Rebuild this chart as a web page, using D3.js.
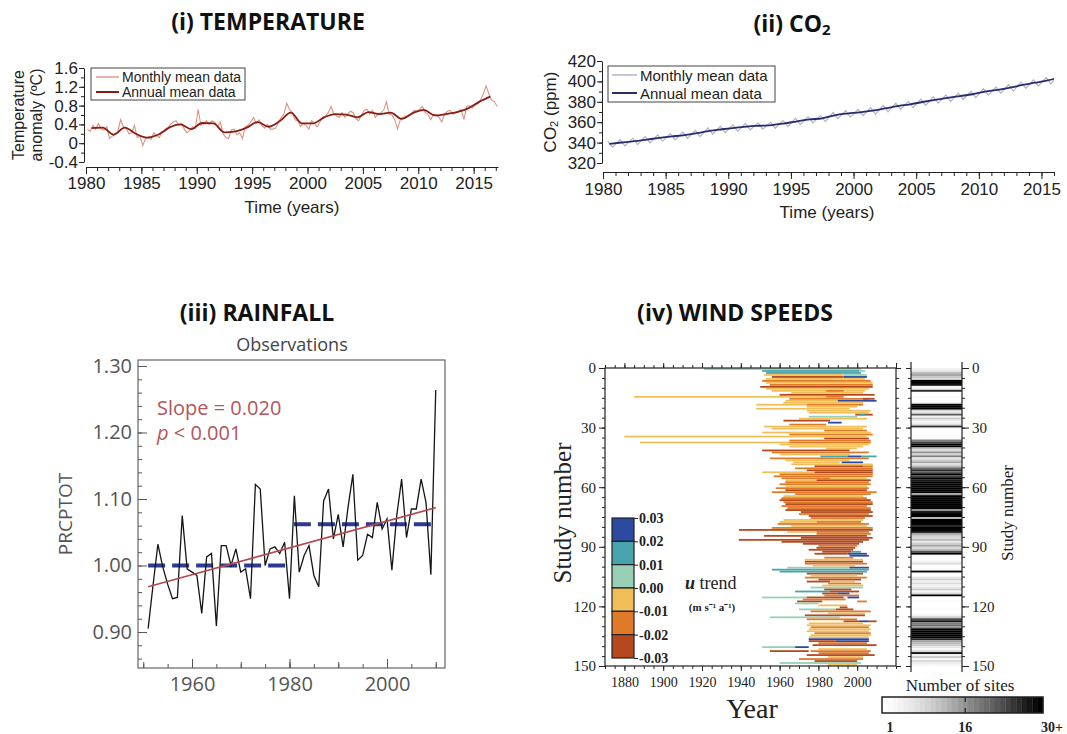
<!DOCTYPE html>
<html>
<head>
<meta charset="utf-8">
<script src="https://cdn.jsdelivr.net/npm/d3@7"></script>
<style>
  body { margin: 0; background: #fff; }
  svg { display: block; }
</style>
</head>
<body>
<svg id="fig" width="1067" height="734"></svg>
<script>
// ---------- data ----------

// (i) temperature anomaly, annual means 1980-2016
var tempAnnual = [0.32, 0.33, 0.18, 0.33, 0.20, 0.12, 0.18, 0.33, 0.40, 0.30,
                  0.43, 0.42, 0.23, 0.25, 0.33, 0.45, 0.35, 0.47, 0.65, 0.42,
                  0.42, 0.55, 0.62, 0.61, 0.55, 0.66, 0.62, 0.65, 0.52, 0.64,
                  0.71, 0.59, 0.62, 0.66, 0.74, 0.88, 0.99];
// monthly data, sampled four times a year from 1980
var tempMonthly = [0.30, 0.25, 0.38, 0.30,  0.42, 0.30, 0.28, 0.35,  0.10, 0.15, 0.20, 0.24,
                   0.50, 0.35, 0.32, 0.20,  0.22, 0.38, 0.12, 0.15, -0.05, 0.10, 0.12, 0.08,
                   0.22, 0.15, 0.12, 0.25,  0.25, 0.30, 0.40, 0.45,  0.48, 0.38, 0.42, 0.30,
                   0.22, 0.28, 0.35, 0.32,  0.72, 0.38, 0.40, 0.48,  0.40, 0.48, 0.45, 0.35,
                   0.45, 0.20, 0.12, 0.10,  0.28, 0.30, 0.18, 0.22,  0.10, 0.35, 0.38, 0.45,
                   0.55, 0.42, 0.50, 0.38,  0.32, 0.40, 0.30, 0.30,  0.32, 0.45, 0.55, 0.62,
                   0.85, 0.72, 0.65, 0.50,  0.48, 0.35, 0.42, 0.38,  0.30, 0.48, 0.42, 0.35,
                   0.45, 0.55, 0.58, 0.65,  0.78, 0.62, 0.58, 0.55,  0.65, 0.55, 0.62, 0.68,
                   0.65, 0.52, 0.48, 0.60,  0.70, 0.72, 0.62, 0.70,  0.55, 0.62, 0.65, 0.70,
                   0.88, 0.62, 0.60, 0.50,  0.30, 0.50, 0.55, 0.58,  0.58, 0.62, 0.70, 0.68,
                   0.72, 0.78, 0.65, 0.62,  0.50, 0.62, 0.60, 0.55,  0.45, 0.62, 0.68, 0.70,
                   0.62, 0.65, 0.68, 0.72,  0.50, 0.78, 0.80, 0.75,  0.80, 0.85, 0.92, 1.05,
                   1.22, 1.05, 0.92, 0.88,  0.78];

// (ii) CO2 (ppm), annual means 1980-2016, and the seasonal high (May) / low (Sep) of each year
var co2Annual = [338.8, 340.1, 341.4, 343.0, 344.6, 346.0, 347.4, 349.2, 351.6, 353.1,
                 354.4, 355.7, 356.5, 357.2, 358.9, 360.9, 362.7, 363.8, 366.8, 368.5,
                 369.7, 371.3, 373.5, 375.8, 377.5, 379.8, 381.9, 383.8, 385.6, 387.4,
                 389.9, 391.7, 393.9, 396.5, 398.7, 401.0, 404.2];
var co2High = [341.5, 343.0, 344.3, 345.8, 347.5, 348.9, 350.3, 352.1, 354.5, 356.1,
               357.3, 358.6, 359.3, 360.0, 361.7, 363.7, 365.6, 366.6, 369.7, 371.4,
               372.6, 374.2, 376.4, 378.7, 380.4, 382.7, 384.8, 386.7, 388.5, 390.3,
               392.8, 394.6, 396.8, 399.4, 401.6, 403.9, 407.1];
var co2Low = [335.6, 336.8, 338.1, 339.7, 341.3, 342.7, 344.1, 345.9, 348.3, 349.8,
              351.1, 352.4, 353.2, 353.9, 355.6, 357.6, 359.4, 360.5, 363.5, 365.2,
              366.4, 368.0, 370.2, 372.5, 374.2, 376.5, 378.6, 380.5, 382.3, 384.1,
              386.6, 388.4, 390.6, 393.2, 395.4, 397.7, 400.9];

// (iii) rainfall PRCPTOT 1951-2010
var rainFirstYear = 1951;
var rainfall = [0.905, 0.970, 1.032, 0.998, 0.972, 0.950, 0.952, 1.075, 0.995, 0.990,
                0.985, 0.928, 1.013, 1.018, 0.909, 1.030, 1.030, 1.000, 1.025, 0.990,
                0.995, 0.950, 1.122, 1.115, 1.000, 1.025, 1.028, 1.018, 1.035, 0.950,
                1.105, 0.990, 1.015, 1.030, 0.985, 0.968, 1.097, 1.115, 1.040, 1.077,
                1.028, 1.087, 1.137, 1.008, 1.015, 1.047, 1.042, 1.095, 1.055, 1.070,
                0.993, 1.075, 1.130, 1.042, 1.085, 1.085, 1.130, 1.095, 0.986, 1.264];
var rainTrend = [[1951, 0.968], [2010, 1.087]];
var rainMeans = [[1951, 1980.2, 1.000], [1980.9, 2010.4, 1.062]];

// (iv) wind speeds: [study, first year, last year, u trend]
var B = 0.025, T = 0.015, G = 0.005, Y = -0.005, O = -0.015, R = -0.025;
var windBars = [
  [0,1921,2002,G], [1,1951,2001,T], [1,2001,2004,G], [2,1953,2002,T], [3,1952,1993,Y], [3,1993,2005,G],
  [4,1956,1993,R], [4,1993,2005,B], [5,1953,2004,Y], [6,1951,2007,O], [7,1953,2008,Y], [8,1955,2008,O],
  [9,1950,2008,R], [10,1953,2006,Y], [11,1956,2004,Y], [11,1984,1993,O], [12,1966,2003,Y], [13,1960,2009,R],
  [14,1885,1984,Y], [14,1984,1993,O], [15,1965,2006,O], [15,2003,2009,R], [16,1963,1990,Y], [16,1990,2010,B],
  [17,1962,2003,Y], [18,1948,1974,Y], [18,1974,2003,O], [19,1974,2000,Y], [20,1948,1996,Y], [21,1974,2007,Y],
  [22,1975,2006,Y], [23,1999,2008,R], [23,2001,2004,T], [24,1975,2000,G], [25,1970,2005,Y], [26,1962,1986,R],
  [27,1985,1992,B], [28,1965,1984,O], [29,1952,2005,Y], [30,1956,2003,Y], [31,1983,2005,O], [32,1951,2007,Y],
  [33,1965,2008,O], [34,1880,2005,Y], [35,1983,2006,R], [36,1965,2007,O], [37,1888,1965,Y], [37,1965,2007,O],
  [38,1960,2006,Y], [39,1965,2003,Y], [40,1984,2000,Y], [41,1951,1996,R], [42,1956,2006,O], [43,1960,1996,Y],
  [44,1981,1995,T], [44,1995,2002,B], [44,2002,2010,T], [45,1955,2006,O], [46,1963,1996,Y], [47,1967,1991,Y],
  [47,1992,2003,B], [48,1966,2008,Y], [49,1978,2003,R], [49,2003,2008,O], [50,1968,2008,O], [51,1974,2008,R],
  [52,1951,1978,Y], [52,1978,2008,R], [53,1960,2008,O], [54,1957,2008,O], [55,1961,1986,O], [55,1986,2005,Y],
  [56,1963,1979,Y], [56,1979,2007,R], [57,1963,2006,O], [58,1960,2007,O], [59,1963,2005,Y], [60,1958,2006,O],
  [61,1963,2005,R], [62,1956,2010,O], [63,1968,2007,O], [64,1962,2003,Y], [65,1961,2005,O], [66,1960,2007,R],
  [67,1962,2008,O], [68,1963,2008,R], [69,1961,2005,O], [70,1964,2007,O], [71,1963,2007,R], [72,1971,2008,R],
  [73,1970,2006,O], [74,1975,2008,R], [75,1976,2004,O], [76,1962,2003,Y], [77,1960,1979,Y], [77,1979,2002,O],
  [78,1959,2006,O], [79,1966,2005,Y], [80,1956,2008,O], [81,1939,2008,R], [82,1964,1979,Y], [82,1979,2006,O],
  [83,1979,2007,O], [84,1952,2005,R], [85,1971,2008,R], [86,1939,2006,R], [87,1961,2003,R], [88,1972,2001,R],
  [89,1980,2000,O], [90,1979,1999,R], [91,1975,1998,R], [92,1982,1997,R], [92,1997,2002,T], [93,1978,1995,R],
  [93,1995,2005,B], [94,1996,2006,B], [95,1983,1998,O], [96,1973,2003,Y], [97,1973,2003,R], [98,1973,2005,O],
  [99,1977,1999,Y], [100,1964,1996,G], [100,1996,2006,B], [101,1956,2006,T], [102,1960,2005,T], [103,1974,2003,R],
  [104,1976,2000,Y], [105,1973,2005,O], [106,1980,2002,R], [107,1974,1986,R], [107,1986,1999,Y], [108,1985,2002,O],
  [109,1982,2003,Y], [110,1976,2003,G], [111,1983,1997,R], [112,1968,1986,T], [112,1986,2001,R], [113,1982,1990,R],
  [113,1990,1996,B], [114,1983,2001,O], [115,1951,1974,G], [115,1974,1993,R], [115,1995,2001,B], [116,1972,1994,O],
  [117,1969,1982,R], [117,2000,2005,O], [118,1968,1980,G], [119,1980,1995,Y], [120,1991,1995,R], [121,1970,1989,G],
  [121,1989,1998,R], [122,1976,2007,O], [123,1985,2004,Y], [124,1973,2004,R], [125,1955,1991,G], [126,1974,2000,O],
  [127,1993,2001,R], [127,2001,2006,B], [127,2006,2010,R], [128,1975,2003,Y], [129,1974,2007,Y], [130,1976,2006,O],
  [131,1975,2007,Y], [132,1974,2006,Y], [133,1978,2007,O], [134,1976,2007,Y], [135,1975,2006,Y], [136,1975,2006,B],
  [137,1975,1989,R], [137,1989,2006,B], [138,1980,2005,O], [139,1977,2010,R], [140,1951,1968,G], [140,1968,1975,B],
  [141,1980,2005,Y], [142,1955,1975,R], [142,1976,2007,O], [143,1980,2006,O], [144,1974,2009,R], [145,1985,2003,Y],
  [146,1970,2003,O], [147,1978,2000,R], [148,1960,2002,G], [149,1985,2000,Y]
];
// number of sites per study (0..149)
var siteCounts = [4, 6, 12, 14, 10, 8, 30, 30, 28, 3,
                  5, 26, 1, 1, 2, 1, 1, 3, 30, 30,
                  30, 8, 6, 22, 4, 10, 5, 3, 8, 26,
                  2, 1, 1, 1, 1, 2, 18, 24, 30, 30,
                  12, 8, 16, 9, 18, 6, 10, 14, 7, 12,
                  20, 26, 22, 30, 24, 30, 28, 30, 30, 30,
                  30, 30, 30, 14, 30, 30, 30, 30, 30, 30,
                  30, 16, 28, 30, 30, 12, 30, 30, 30, 26,
                  30, 30, 28, 14, 10, 8, 12, 6, 10, 14,
                  8, 12, 22, 30, 2, 1, 1, 4, 8, 1,
                  1, 3, 30, 2, 1, 6, 10, 4, 8, 3,
                  6, 10, 3, 8, 30, 1, 1, 2, 1, 1,
                  1, 2, 1, 1, 4, 10, 24, 28, 18, 20,
                  16, 30, 30, 30, 30, 30, 26, 14, 12, 10,
                  6, 3, 8, 28, 4, 10, 3, 8, 5, 3];
var trendBreaks = [0.03, 0.02, 0.01, 0.00, -0.01, -0.02, -0.03];
var trendColors = ["#b4491f", "#df7a2b", "#f1bf59", "#97d0b4", "#48a5ad", "#2c4aa0"];

// ---------- drawing ----------
var sans = "'Liberation Sans', Arial, sans-serif";
var serif = "'Liberation Serif', 'Times New Roman', serif";
var open = "'Open Sans', sans-serif";

var svg = d3.select("#fig");
svg.append("rect").attr("width", 1067).attr("height", 734).attr("fill", "#fff");

function styleAxis(g, font, size, color) {
  g.selectAll(".domain, .tick line").attr("stroke", color);
  g.selectAll(".tick text").attr("fill", color).attr("font-family", font).attr("font-size", size);
  return g;
}
function panelTitle(x, y, txt) {
  return svg.append("text").attr("x", x).attr("y", y)
    .attr("text-anchor", "middle").attr("dominant-baseline", "central")
    .attr("font-family", open).attr("font-weight", 700).attr("font-size", 23)
    .attr("fill", "#111").text(txt);
}
function fmt1(d) { return Math.abs(d) < 1e-9 ? "0" : d.toFixed(1); }

// ===== (i) TEMPERATURE =====
panelTitle(268, 21, "(i) TEMPERATURE");
var xT = d3.scaleLinear().domain([1980, 2017.2]).range([86, 498]);
var yT = d3.scaleLinear().domain([-0.4, 1.6]).range([162, 68]);
var gT = svg.append("g");

var tMon = tempMonthly.map(function (v, i) { return [1980.125 + i * 0.25, v]; });
gT.append("path").datum(tMon)
  .attr("d", d3.line().x(function (d) { return xT(d[0]); }).y(function (d) { return yT(d[1]); }))
  .attr("fill", "none").attr("stroke", "#e09282").attr("stroke-width", 1.1);
var tAnn = tempAnnual.map(function (v, i) { return [1980.5 + i, v]; });
gT.append("path").datum(tAnn)
  .attr("d", d3.line().curve(d3.curveMonotoneX).x(function (d) { return xT(d[0]); }).y(function (d) { return yT(d[1]); }))
  .attr("fill", "none").attr("stroke", "#8a1d15").attr("stroke-width", 1.8);

var gTx = gT.append("g").attr("transform", "translate(0,167)");
gTx.call(d3.axisBottom(xT).tickValues(d3.range(1980, 2018)).tickSize(4).tickSizeOuter(0).tickFormat(""));
gTx.append("g").call(d3.axisBottom(xT).tickValues(d3.range(1980, 2016, 5)).tickSize(7).tickPadding(3)
  .tickFormat(d3.format("d"))).select(".domain").remove();
styleAxis(gTx, sans, 17, "#222");
var gTy = gT.append("g").attr("transform", "translate(84,0)");
gTy.call(d3.axisLeft(yT).tickValues([-0.4, -0.2, 0, 0.2, 0.4, 0.6, 0.8, 1.0, 1.2, 1.4, 1.6]).tickSize(3).tickSizeOuter(0).tickFormat(""));
gTy.append("g").call(d3.axisLeft(yT).tickValues([-0.4, 0, 0.4, 0.8, 1.2, 1.6]).tickSize(5).tickPadding(1)
  .tickFormat(fmt1)).select(".domain").remove();
styleAxis(gTy, sans, 17, "#222");

gT.append("text").attr("x", 292).attr("y", 207).attr("text-anchor", "middle").attr("dominant-baseline", "central")
  .attr("font-family", sans).attr("font-size", 17).attr("fill", "#222").text("Time (years)");
gT.append("text").attr("transform", "translate(18,115) rotate(-90)").attr("text-anchor", "middle")
  .attr("dominant-baseline", "central").attr("font-family", sans).attr("font-size", 16).attr("fill", "#222")
  .text("Temperature");
gT.append("text").attr("transform", "translate(36,115) rotate(-90)").attr("text-anchor", "middle")
  .attr("dominant-baseline", "central").attr("font-family", sans).attr("font-size", 16).attr("fill", "#222")
  .text("anomaly (ºC)");

var legT = gT.append("g");
legT.append("rect").attr("x", 91).attr("y", 68).attr("width", 154).attr("height", 32)
  .attr("fill", "#fff").attr("stroke", "#444").attr("stroke-width", 1);
[["Monthly mean data", "#e09282", 1.4, 77], ["Annual mean data", "#8a1d15", 2, 92]].forEach(function (l) {
  legT.append("line").attr("x1", 96).attr("x2", 119).attr("y1", l[3]).attr("y2", l[3])
    .attr("stroke", l[1]).attr("stroke-width", l[2]);
  legT.append("text").attr("x", 122).attr("y", l[3]).attr("dominant-baseline", "central")
    .attr("font-family", sans).attr("font-size", 14).attr("fill", "#222").text(l[0]);
});

// ===== (ii) CO2 =====
var tCO2 = svg.append("text").attr("x", 792).attr("y", 23).attr("text-anchor", "middle")
  .attr("dominant-baseline", "central").attr("font-family", open).attr("font-weight", 700)
  .attr("font-size", 23).attr("fill", "#111");
tCO2.append("tspan").text("(ii) CO");
tCO2.append("tspan").attr("dy", 6).attr("font-size", 15).text("2");

var xC = d3.scaleLinear().domain([1980, 2016]).range([603, 1054]);
var yC = d3.scaleLinear().domain([320, 420]).range([163, 61]);
var gC = svg.append("g");
svg.append("clipPath").attr("id", "clipC").append("rect").attr("x", 603).attr("y", 40).attr("width", 451).attr("height", 130);

var cMon = [];
co2High.forEach(function (v, i) { cMon.push([1980.37 + i, v]); cMon.push([1980.75 + i, co2Low[i]]); });
gC.append("path").datum(cMon).attr("clip-path", "url(#clipC)")
  .attr("d", d3.line().x(function (d) { return xC(d[0]); }).y(function (d) { return yC(d[1]); }))
  .attr("fill", "none").attr("stroke", "#a8b2cc").attr("stroke-width", 1.1);
var cAnn = co2Annual.map(function (v, i) { return [1980.5 + i, v]; });
gC.append("path").datum(cAnn).attr("clip-path", "url(#clipC)")
  .attr("d", d3.line().curve(d3.curveMonotoneX).x(function (d) { return xC(d[0]); }).y(function (d) { return yC(d[1]); }))
  .attr("fill", "none").attr("stroke", "#2a2b6a").attr("stroke-width", 1.8);

var gCx = gC.append("g").attr("transform", "translate(0,172)");
gCx.call(d3.axisBottom(xC).tickValues(d3.range(1980, 2017)).tickSize(4).tickSizeOuter(0).tickFormat(""));
gCx.append("g").call(d3.axisBottom(xC).tickValues(d3.range(1980, 2016, 5)).tickSize(7).tickPadding(4)
  .tickFormat(d3.format("d"))).select(".domain").remove();
styleAxis(gCx, sans, 17, "#222");
var gCy = gC.append("g").attr("transform", "translate(602,0)");
gCy.call(d3.axisLeft(yC).tickValues(d3.range(320, 421, 10)).tickSize(3).tickSizeOuter(0).tickFormat(""));
gCy.append("g").call(d3.axisLeft(yC).tickValues(d3.range(320, 421, 20)).tickSize(5).tickPadding(1)
  .tickFormat(d3.format("d"))).select(".domain").remove();
styleAxis(gCy, sans, 17, "#222");

gC.append("text").attr("x", 827).attr("y", 212).attr("text-anchor", "middle").attr("dominant-baseline", "central")
  .attr("font-family", sans).attr("font-size", 17).attr("fill", "#222").text("Time (years)");
var yLabC = gC.append("text").attr("transform", "translate(550,112) rotate(-90)").attr("text-anchor", "middle")
  .attr("dominant-baseline", "central").attr("font-family", sans).attr("font-size", 17).attr("fill", "#222");
yLabC.append("tspan").text("CO");
yLabC.append("tspan").attr("dy", 4).attr("font-size", 11).text("2");
yLabC.append("tspan").attr("dy", -4).text(" (ppm)");

var legC = gC.append("g");
legC.append("rect").attr("x", 608).attr("y", 66).attr("width", 167).attr("height", 36)
  .attr("fill", "#fff").attr("stroke", "#444").attr("stroke-width", 1);
[["Monthly mean data", "#a8b2cc", 1.4, 75], ["Annual mean data", "#2a2b6a", 2, 93]].forEach(function (l) {
  legC.append("line").attr("x1", 612).attr("x2", 637).attr("y1", l[3]).attr("y2", l[3])
    .attr("stroke", l[1]).attr("stroke-width", l[2]);
  legC.append("text").attr("x", 640).attr("y", l[3]).attr("dominant-baseline", "central")
    .attr("font-family", sans).attr("font-size", 15).attr("fill", "#222").text(l[0]);
});

// ===== (iii) RAINFALL =====
panelTitle(257, 312, "(iii) RAINFALL");
var xR = d3.scaleLinear().domain([1960, 2000]).range([192, 387]);
var yR = d3.scaleLinear().domain([0.9, 1.3]).range([632, 366]);
var gR = svg.append("g");
gR.append("text").attr("x", 292).attr("y", 344).attr("text-anchor", "middle").attr("dominant-baseline", "central")
  .attr("font-family", open).attr("font-size", 18).attr("fill", "#444").text("Observations");
gR.append("rect").attr("x", 138).attr("y", 360).attr("width", 307).attr("height", 308)
  .attr("fill", "none").attr("stroke", "#666").attr("stroke-width", 1.2);

var gRy = gR.append("g").attr("transform", "translate(138,0)");
gRy.call(d3.axisLeft(yR).tickValues(d3.range(0.86, 1.305, 0.02)).tickSize(-4).tickFormat(""));
gRy.append("g").call(d3.axisLeft(yR).tickValues([0.9, 1.0, 1.1, 1.2, 1.3]).tickSize(-9).tickPadding(6)
  .tickFormat(d3.format(".2f")));
gRy.selectAll(".domain").remove();
styleAxis(gRy, open, 20, "#555");
var gRx = gR.append("g").attr("transform", "translate(0,668)");
gRx.call(d3.axisBottom(xR).tickValues(d3.range(1950, 2011, 5)).tickSize(-4).tickFormat(""));
gRx.append("g").call(d3.axisBottom(xR).tickValues(d3.range(1950, 2011, 10)).tickSize(-6).tickFormat(""));
gRx.append("g").call(d3.axisBottom(xR).tickValues([1960, 1980, 2000]).tickSize(-9).tickPadding(9)
  .tickFormat(d3.format("d")));
gRx.selectAll(".domain").remove();
styleAxis(gRx, open, 20, "#555");

gR.append("text").attr("transform", "translate(65,514) rotate(-90)").attr("text-anchor", "middle")
  .attr("dominant-baseline", "central").attr("font-family", open).attr("font-size", 19).attr("fill", "#555")
  .text("PRCPTOT");

var rLine = d3.line().x(function (d) { return xR(d[0]); }).y(function (d) { return yR(d[1]); });
gR.selectAll("line.mean").data(rainMeans).enter().append("line").attr("class", "mean")
  .attr("x1", function (d) { return xR(d[0]); }).attr("x2", function (d) { return xR(d[1]); })
  .attr("y1", function (d) { return yR(d[2]); }).attr("y2", function (d) { return yR(d[2]); })
  .attr("stroke", "#2d3a8e").attr("stroke-width", 4).attr("stroke-dasharray", "17,7");
gR.append("path").datum(rainfall.map(function (v, i) { return [rainFirstYear + i, v]; }))
  .attr("d", rLine).attr("fill", "none").attr("stroke", "#151515").attr("stroke-width", 1.3);
gR.append("path").datum(rainTrend).attr("d", rLine)
  .attr("fill", "none").attr("stroke", "#b24a50").attr("stroke-width", 1.6);

gR.append("text").attr("x", 157).attr("y", 415).attr("font-family", open).attr("font-size", 20)
  .attr("fill", "#b4545c").text("Slope = 0.020");
var pTxt = gR.append("text").attr("x", 157).attr("y", 440).attr("font-family", open).attr("font-size", 20)
  .attr("fill", "#b4545c");
pTxt.append("tspan").attr("font-style", "italic").text("p");
pTxt.append("tspan").text(" < 0.001");

// ===== (iv) WIND SPEEDS =====
panelTitle(735, 312, "(iv) WIND SPEEDS");
var xW = d3.scaleLinear().domain([1870, 2020]).range([605, 896]);
var yW = d3.scaleLinear().domain([0, 150]).range([368, 666]);
var trendColor = d3.scaleThreshold().domain([-0.02, -0.01, 0, 0.01, 0.02]).range(trendColors);
var gW = svg.append("g");

gW.selectAll("rect.bar").data(windBars).enter().append("rect").attr("class", "bar")
  .attr("x", function (d) { return xW(d[1]); })
  .attr("width", function (d) { return xW(d[2]) - xW(d[1]); })
  .attr("y", function (d) { return yW(d[0]) + 0.1; })
  .attr("height", function (d) { return yW(d[0] + 1) - yW(d[0]) - 0.2; })
  .attr("fill", function (d) { return trendColor(d[3]); });
gW.append("rect").attr("x", 605).attr("y", 368).attr("width", 291).attr("height", 298)
  .attr("fill", "none").attr("stroke", "#222").attr("stroke-width", 1.2);

var gWy = gW.append("g").attr("transform", "translate(605,0)");
gWy.call(d3.axisLeft(yW).tickValues(d3.range(0, 151, 5)).tickSize(3).tickFormat(""));
gWy.append("g").call(d3.axisLeft(yW).tickValues(d3.range(0, 151, 30)).tickSize(6).tickPadding(3)
  .tickFormat(d3.format("d")));
gWy.selectAll(".domain").remove();
styleAxis(gWy, serif, 15, "#222");
var gWt = gW.append("g").attr("transform", "translate(0,368)");
gWt.call(d3.axisTop(xW).tickValues(d3.range(1870, 2021, 5)).tickSize(3).tickFormat(""));
gWt.append("g").call(d3.axisTop(xW).tickValues(d3.range(1880, 2021, 20)).tickSize(5).tickFormat(""));
gWt.selectAll(".domain").remove();
styleAxis(gWt, serif, 14, "#222");
var gWb = gW.append("g").attr("transform", "translate(0,666)");
gWb.call(d3.axisBottom(xW).tickValues(d3.range(1870, 2021, 5)).tickSize(3).tickFormat(""));
gWb.append("g").call(d3.axisBottom(xW).tickValues(d3.range(1880, 2001, 20)).tickSize(5).tickPadding(6)
  .tickFormat(d3.format("d")));
gWb.selectAll(".domain").remove();
styleAxis(gWb, serif, 14, "#222");
var gWr = gW.append("g").attr("transform", "translate(896,0)");
gWr.call(d3.axisRight(yW).tickValues(d3.range(0, 151, 5)).tickSize(3).tickFormat(""));
gWr.append("g").call(d3.axisRight(yW).tickValues(d3.range(0, 151, 30)).tickSize(5).tickFormat(""));
gWr.selectAll(".domain").remove();
styleAxis(gWr, serif, 14, "#222");

gW.append("text").attr("x", 752).attr("y", 708).attr("text-anchor", "middle").attr("dominant-baseline", "central")
  .attr("font-family", serif).attr("font-size", 28).attr("fill", "#222").text("Year");
gW.append("text").attr("transform", "translate(562,513) rotate(-90)").attr("text-anchor", "middle")
  .attr("dominant-baseline", "central").attr("font-family", serif).attr("font-size", 25).attr("fill", "#222")
  .text("Study number");

// u trend legend
var yL = d3.scaleLinear().domain([0.03, -0.03]).range([518, 658]);
var gL = gW.append("g");
d3.range(6).forEach(function (i) {
  var top = trendBreaks[i], bot = trendBreaks[i + 1];
  gL.append("rect").attr("x", 612).attr("width", 22).attr("y", yL(top)).attr("height", yL(bot) - yL(top))
    .attr("fill", trendColor((top + bot) / 2)).attr("stroke", "#222").attr("stroke-width", 1.2);
});
var gLa = gL.append("g").attr("transform", "translate(634,0)");
gLa.call(d3.axisRight(yL).tickValues(trendBreaks).tickSize(4).tickPadding(1).tickFormat(d3.format(".2f")));
gLa.select(".domain").remove();
styleAxis(gLa, serif, 14, "#222");
gLa.selectAll(".tick text").attr("font-weight", 700).text(function (d) { return d.toFixed(2).replace("−", "-"); });

var uT = gL.append("text").attr("x", 685).attr("y", 583).attr("dominant-baseline", "central")
  .attr("font-family", serif).attr("font-size", 18).attr("fill", "#222");
uT.append("tspan").attr("font-style", "italic").attr("font-weight", 700).text("u");
uT.append("tspan").text(" trend");
gL.append("text").attr("x", 712).attr("y", 607).attr("text-anchor", "middle").attr("dominant-baseline", "central")
  .attr("font-family", serif).attr("font-size", 11).attr("font-weight", 700).attr("fill", "#222")
  .text("(m s⁻¹ a⁻¹)");

// number of sites strip
var siteGrey = d3.scaleSequential(d3.interpolateGreys).domain([1, 30]).clamp(true);
var gS = svg.append("g");
gS.selectAll("rect.site").data(siteCounts).enter().append("rect").attr("class", "site")
  .attr("x", 911).attr("width", 51)
  .attr("y", function (d, i) { return yW(i); })
  .attr("height", function (d, i) { return yW(i + 1) - yW(i) + 0.05; })
  .attr("fill", function (d) { return siteGrey(d); });
[911, 962].forEach(function (x) {
  gS.append("line").attr("x1", x).attr("x2", x).attr("y1", 362).attr("y2", 672)
    .attr("stroke", "#222").attr("stroke-width", 1.2);
});
var gSl = gS.append("g").attr("transform", "translate(911,0)");
gSl.call(d3.axisLeft(yW).tickValues(d3.range(0, 151, 5)).tickSize(3).tickFormat(""));
gSl.append("g").call(d3.axisLeft(yW).tickValues(d3.range(0, 151, 30)).tickSize(5).tickFormat(""));
gSl.selectAll(".domain").remove();
styleAxis(gSl, serif, 14, "#222");
var gSr = gS.append("g").attr("transform", "translate(962,0)");
gSr.call(d3.axisRight(yW).tickValues(d3.range(0, 151, 5)).tickSize(3).tickFormat(""));
gSr.append("g").call(d3.axisRight(yW).tickValues(d3.range(0, 151, 30)).tickSize(7).tickPadding(3)
  .tickFormat(d3.format("d")));
gSr.selectAll(".domain").remove();
styleAxis(gSr, serif, 15, "#222");
gS.append("text").attr("transform", "translate(1007,513) rotate(-90)").attr("text-anchor", "middle")
  .attr("dominant-baseline", "central").attr("font-family", serif).attr("font-size", 17).attr("fill", "#222")
  .text("Study number");

// number of sites colour bar
var siteLevels = d3.range(1, 31);
var xS = d3.scaleLinear().domain([1, 31]).range([882, 1043]);
gS.append("text").attr("x", 960).attr("y", 685).attr("text-anchor", "middle").attr("dominant-baseline", "central")
  .attr("font-family", serif).attr("font-size", 17).attr("fill", "#222").text("Number of sites");
gS.selectAll("rect.lev").data(siteLevels).enter().append("rect").attr("class", "lev")
  .attr("x", function (d) { return xS(d); }).attr("width", xS(2) - xS(1) + 0.3)
  .attr("y", 697).attr("height", 16).attr("fill", function (d) { return siteGrey(d); });
gS.append("rect").attr("x", 882).attr("y", 697).attr("width", 161).attr("height", 16)
  .attr("fill", "none").attr("stroke", "#222").attr("stroke-width", 1.5);
[[1, "1"], [16, "16"], [31, "30+"]].forEach(function (t) {
  var x = t[0] === 1 ? xS(1) + 8 : (t[0] === 31 ? xS(31) + 9 : xS(16.5));
  gS.append("text").attr("x", x).attr("y", 727).attr("text-anchor", "middle").attr("dominant-baseline", "central")
    .attr("font-family", serif).attr("font-size", 14).attr("font-weight", 700).attr("fill", "#222").text(t[1]);
});
gS.append("line").attr("x1", xS(16.5)).attr("x2", xS(16.5)).attr("y1", 697).attr("y2", 702)
  .attr("stroke", "#222").attr("stroke-width", 1.2);
gS.append("line").attr("x1", xS(16.5)).attr("x2", xS(16.5)).attr("y1", 708).attr("y2", 713)
  .attr("stroke", "#222").attr("stroke-width", 1.2);
</script>
</body>
</html>
